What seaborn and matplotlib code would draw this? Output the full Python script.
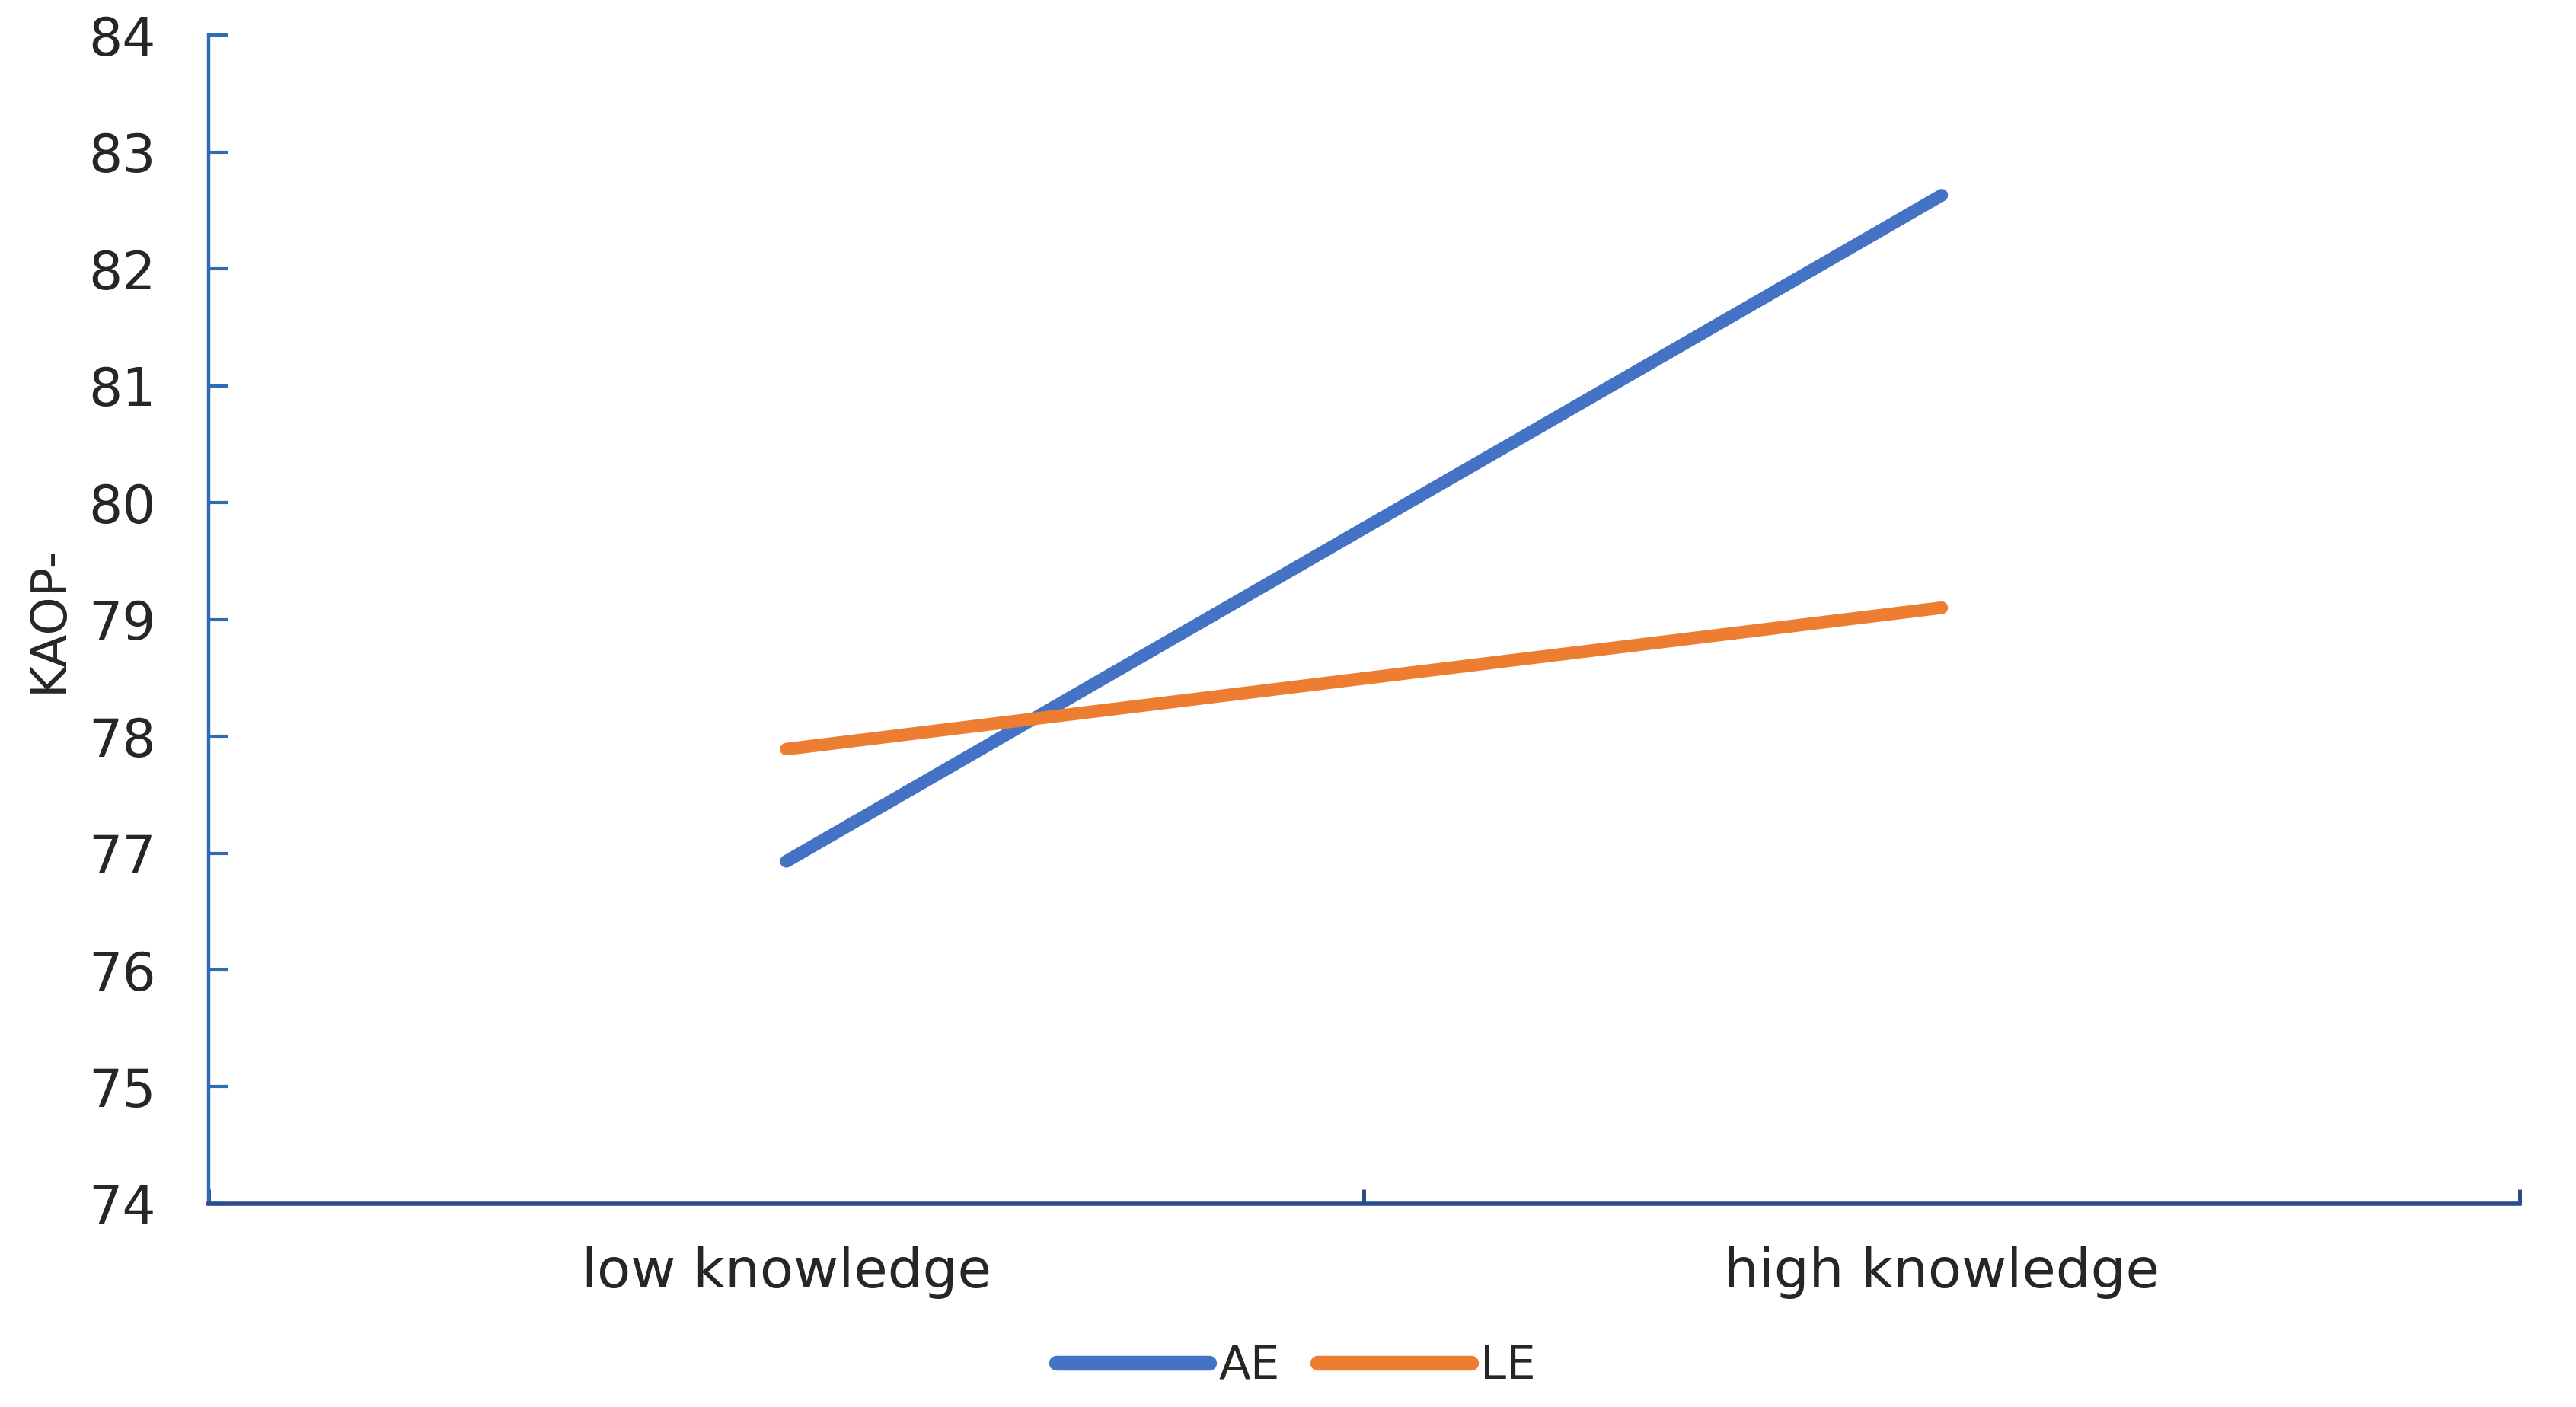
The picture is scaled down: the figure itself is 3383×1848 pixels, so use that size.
import pandas as pd
import matplotlib
matplotlib.use("Agg")
import matplotlib.pyplot as plt
import seaborn as sns

# data
knowledge = ["low knowledge", "high knowledge"]
ae_values = [76.93, 82.63]
le_values = [77.89, 79.10]
groups = ["AE", "LE"]
y_ticks = [74, 75, 76, 77, 78, 79, 80, 81, 82, 83, 84]

COLORS = {"AE": "#4472C4", "LE": "#ED7D31"}

df = pd.DataFrame({
    "knowledge": knowledge * 2,
    "group": ["AE"] * len(knowledge) + ["LE"] * len(knowledge),
    "value": ae_values + le_values,
})

sns.set_style("white")
plt.rcParams["font.family"] = ["DejaVu Sans"]

fig = plt.figure(figsize=(3383 / 200, 1848 / 200), dpi=200)
ax = fig.add_axes([0.081, 0.1445, 0.897, 0.8305])

sns.lineplot(data=df, x="knowledge", y="value", hue="group", palette=COLORS,
             hue_order=groups, linewidth=6, solid_capstyle="round", ax=ax,
             legend=False)

ax.set_ylim(74, 84)
ax.set_xlim(-0.5, 1.5)
ax.set_yticks(y_ticks)
ax.set_yticklabels([str(t) for t in y_ticks])
ax.tick_params(axis="y", left=True, direction="in", length=9, width=1.5,
               color="#2E6DB4", pad=25, labelsize=25, labelcolor="#262626")

# category boundaries as ticks, labels on minor ticks
ax.set_xticks([-0.5, 0.5, 1.5])
ax.set_xticklabels(["", "", ""])
ax.set_xticks([0, 1], minor=True)
ax.set_xticklabels(knowledge, minor=True)
ax.tick_params(axis="x", which="major", bottom=True, direction="in", length=7,
               width=1.8, color="#2B4C8C")
ax.tick_params(axis="x", which="minor", bottom=True, length=0, pad=20,
               labelsize=26, labelcolor="#262626")

ax.set_xlabel("")
ax.set_ylabel("KAOP-", fontsize=23, color="#262626")
ax.yaxis.set_label_coords(-0.059, 0.5)

for side in ["top", "right"]:
    ax.spines[side].set_visible(False)
ax.spines["left"].set_color("#2E6DB4")
ax.spines["left"].set_linewidth(1.6)
ax.spines["bottom"].set_color("#2B4C8C")
ax.spines["bottom"].set_linewidth(2.0)

handles = [plt.Line2D([], [], color=COLORS[g], linewidth=7, solid_capstyle="round")
           for g in groups]
fig.legend(handles, groups, loc="center", bbox_to_anchor=(0.503, 0.029), ncol=2,
           frameon=False, fontsize=22, handlelength=3.3, handletextpad=0.2,
           columnspacing=0.8)

fig.savefig("out.png", dpi=200)
